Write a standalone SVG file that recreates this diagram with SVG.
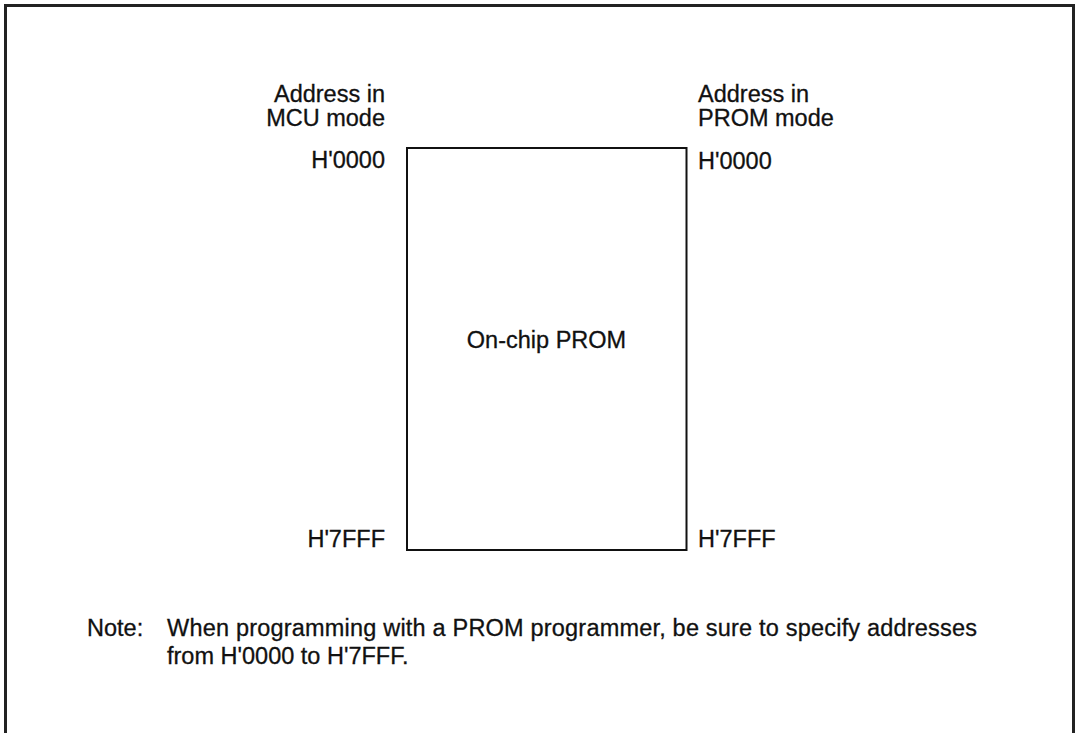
<svg xmlns="http://www.w3.org/2000/svg" width="1075" height="733" viewBox="0 0 1075 733">
<style>
text{font-family:"Liberation Sans",Arial,sans-serif;font-size:23.5px;fill:#111;stroke:#111;stroke-width:0.3}
.r{text-anchor:end}
.m{text-anchor:middle}
</style>
<rect width="1075" height="733" fill="#fff"/>
<rect x="5.5" y="5.5" width="1068" height="740" fill="none" stroke="#222" stroke-width="3"/>
<g id="prom">
<rect x="407" y="148" width="279.5" height="402" fill="none" stroke="#111" stroke-width="2"/>
<text class="m" x="546.5" y="348">On-chip PROM</text>
</g>
<g id="mcu-labels">
<text class="r" x="385" y="102">Address in</text>
<text class="r" x="385" y="126">MCU mode</text>
<text class="r" x="385" y="168">H'0000</text>
<text class="r" x="385" y="547">H'7FFF</text>
</g>
<g id="prom-labels">
<text x="698" y="102">Address in</text>
<text x="698" y="126">PROM mode</text>
<text x="698" y="169">H'0000</text>
<text x="698" y="547">H'7FFF</text>
</g>
<g id="connectors"></g>
<g id="note">
<text x="87" y="636">Note:</text>
<text x="167" y="636" textLength="810" lengthAdjust="spacing">When programming with a PROM programmer, be sure to specify addresses</text>
<text x="167" y="664">from H'0000 to H'7FFF.</text>
</g>
</svg>
